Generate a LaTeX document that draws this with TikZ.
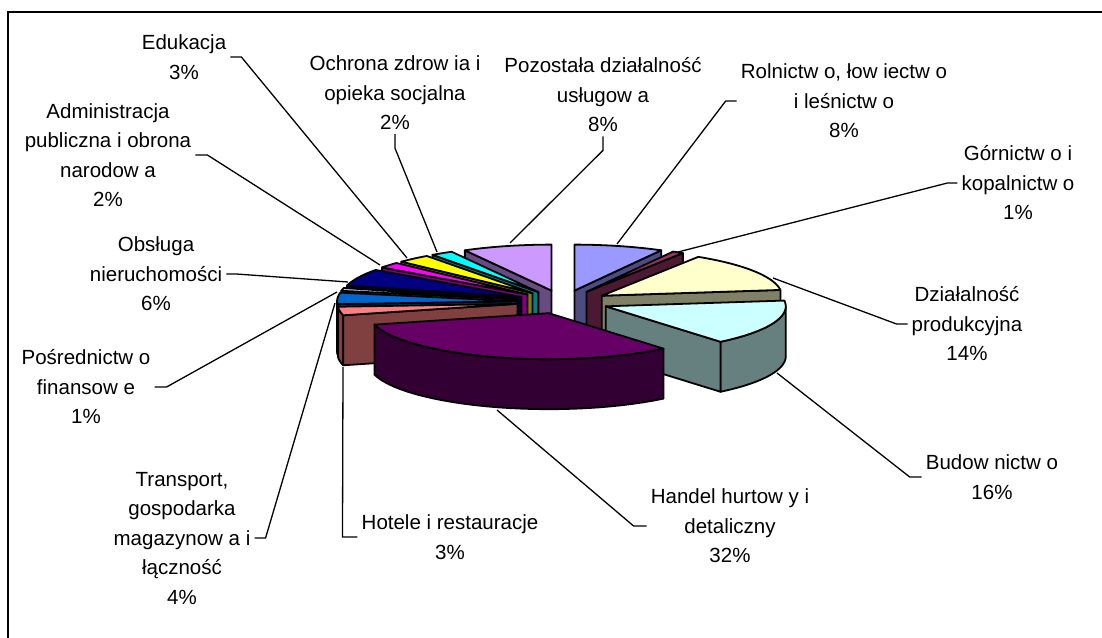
\documentclass[tikz,border=0pt]{standalone}
\usepackage{fontspec}
\setmainfont{Liberation Sans}
\definecolor{cRol}{HTML}{9999FF}
\definecolor{cGor}{HTML}{993366}
\definecolor{cDzi}{HTML}{FFFFCC}
\definecolor{cBud}{HTML}{CCFFFF}
\definecolor{cHan}{HTML}{660066}
\definecolor{cHot}{HTML}{FF8080}
\definecolor{cTra}{HTML}{0066CC}
\definecolor{cPos}{HTML}{CCCCFF}
\definecolor{cObs}{HTML}{000080}
\definecolor{cAdm}{HTML}{FF00FF}
\definecolor{cEdu}{HTML}{FFFF00}
\definecolor{cOch}{HTML}{00FFFF}
\definecolor{cPoz}{HTML}{CC99FF}
\def\Cx{563}\def\Cy{302}\def\RX{180}\def\RY{46}\def\EX{46}\def\TH{50}
% #1 a1, #2 a2, #3 colour, #4 face at a1, #5 face at a2, #6 #7 front arc
\newcommand{\pieslice}[7]{%
  \pgfmathsetmacro\psmid{(#1+#2)/2}%
  \pgfmathsetmacro\pcx{\Cx+\EX*cos(\psmid)}%
  \pgfmathsetmacro\pcy{\Cy-\EX*\RY/\RX*sin(\psmid)}%
  \ifdim #7pt>#6pt
    \filldraw[pieedge,fill=#3!50!black] plot[domain=#6:#7,samples=30] ({\pcx+\RX*cos(\x)},{\pcy-\RY*sin(\x)}) -- plot[domain=#7:#6,samples=30] ({\pcx+\RX*cos(\x)},{\pcy-\RY*sin(\x)+\TH}) -- cycle;
  \fi
  \ifnum#4=1
    \filldraw[pieedge,fill=#3!50!black] (\pcx,\pcy) -- ({\pcx+\RX*cos(#1)},{\pcy-\RY*sin(#1)}) -- ++(0,\TH) -- (\pcx,{\pcy+\TH}) -- cycle;
  \fi
  \ifnum#5=1
    \filldraw[pieedge,fill=#3!50!black] (\pcx,\pcy) -- ({\pcx+\RX*cos(#2)},{\pcy-\RY*sin(#2)}) -- ++(0,\TH) -- (\pcx,{\pcy+\TH}) -- cycle;
  \fi
  \filldraw[pieedge,fill=#3] (\pcx,\pcy) -- plot[domain=#1:#2,samples=30] ({\pcx+\RX*cos(\x)},{\pcy-\RY*sin(\x)}) -- cycle;
}
\tikzset{
  pieedge/.style={draw=black,line width=1.8pt,line join=round},
  lbl/.style={font=\fontsize{20.5}{29.5}\selectfont,align=center,inner sep=4pt},
  leader/.style={draw=black,line width=1.3pt}
}
\begin{document}
\begin{tikzpicture}[x=1pt,y=-1pt]
\useasboundingbox (0,0) rectangle (1102,637);
\clip (0,0) rectangle (1102,637);
\fill[white] (0,0) rectangle (1102,637);
\draw[line width=2pt] (8,12) rectangle (1130,670);
% pie slices, back to front
\pieslice{61.2}{90}{cRol}{1}{0}{0}{0}
\pieslice{90}{118.8}{cPoz}{0}{1}{0}{0}
\pieslice{57.6}{61.2}{cGor}{1}{0}{0}{0}
\pieslice{118.8}{126}{cOch}{0}{1}{0}{0}
\pieslice{126}{136.8}{cEdu}{0}{1}{0}{0}
\pieslice{136.8}{144}{cAdm}{0}{1}{0}{0}
\pieslice{7.2}{57.6}{cDzi}{1}{0}{0}{0}
\pieslice{144}{165.6}{cObs}{0}{1}{0}{0}
\pieslice{165.6}{169.2}{cPos}{0}{1}{0}{0}
\pieslice{169.2}{183.6}{cTra}{0}{1}{180}{183.6}
\pieslice{183.6}{194.4}{cHot}{0}{1}{183.6}{194.4}
\pieslice{-50.4}{7.2}{cBud}{1}{0}{-50.4}{0}
\pieslice{-165.6}{-50.4}{cHan}{0}{0}{-165.6}{-50.4}
% leader end points
\coordinate (pEdu) at (407,258);
\coordinate (pAdm) at (380,265);
\coordinate (pOch) at (437,252);
\coordinate (pPoz) at (510,243);
\coordinate (pRol) at (617,244);
\coordinate (pGor) at (678,252);
\coordinate (pDzi) at (773,278);
\coordinate (pBud) at (777,373);
\coordinate (pHan) at (497,410);
\coordinate (pHot) at (343,367);
\coordinate (pTra) at (335,303);
\coordinate (pPos) at (337,292);
\coordinate (pObs) at (348,282);
% labels
\node[lbl] (edu) at (184,57) {Edukacja\\3\%};
\node[lbl] (adm) at (108,155) {Administracja\\publiczna i obrona\\narodow a\\2\%};
\node[lbl] (och) at (395,93) {Ochrona zdrow ia i\\opieka socjalna\\2\%};
\node[lbl] (poz) at (603,95) {Pozostała działalność\\usługow a\\8\%};
\node[lbl] (rol) at (844,101) {Rolnictw o, łow iectw o\\i leśnictw o\\8\%};
\node[lbl] (gor) at (1018,183) {Górnictw o i\\kopalnictw o\\1\%};
\node[lbl] (dzi) at (967,324) {Działalność\\produkcyjna\\14\%};
\node[lbl] (bud) at (992,477) {Budow nictw o\\16\%};
\node[lbl] (han) at (730,526) {Handel hurtow y i\\detaliczny\\32\%};
\node[lbl] (hot) at (450,537) {Hotele i restauracje\\3\%};
\node[lbl] (tra) at (182,538) {Transport,\\gospodarka\\magazynow a i\\łączność\\4\%};
\node[lbl] (pos) at (86,387) {Pośrednictw o\\finansow e\\1\%};
\node[lbl] (obs) at (156,274) {Obsługa\\nieruchomości\\6\%};
% leaders
\draw[leader] (edu.east) -- ++(11,0) -- (pEdu);
\draw[leader] (adm.east) -- ++(12,0) -- (pAdm);
\draw[leader] (och.south) -- ++(0,14) -- (pOch);
\draw[leader] (poz.south) -- ++(0,14) -- (pPoz);
\draw[leader] (rol.west) -- ++(-11,0) -- (pRol);
\draw[leader] (gor.west) -- ++(-10,0) -- (pGor);
\draw[leader] (dzi.west) -- ++(-11,0) -- (pDzi);
\draw[leader] (bud.west) -- ++(-12,0) -- (pBud);
\draw[leader] (han.west) -- ++(-13,0) -- (pHan);
\draw[leader] (hot.west) -- ++(-15,0) -- (pHot);
\draw[leader] (tra.east) -- ++(11,0) -- (pTra);
\draw[leader] (pos.east) -- ++(12,0) -- (pPos);
\draw[leader] (obs.east) -- ++(10,0) -- (pObs);
\end{tikzpicture}
\end{document}
